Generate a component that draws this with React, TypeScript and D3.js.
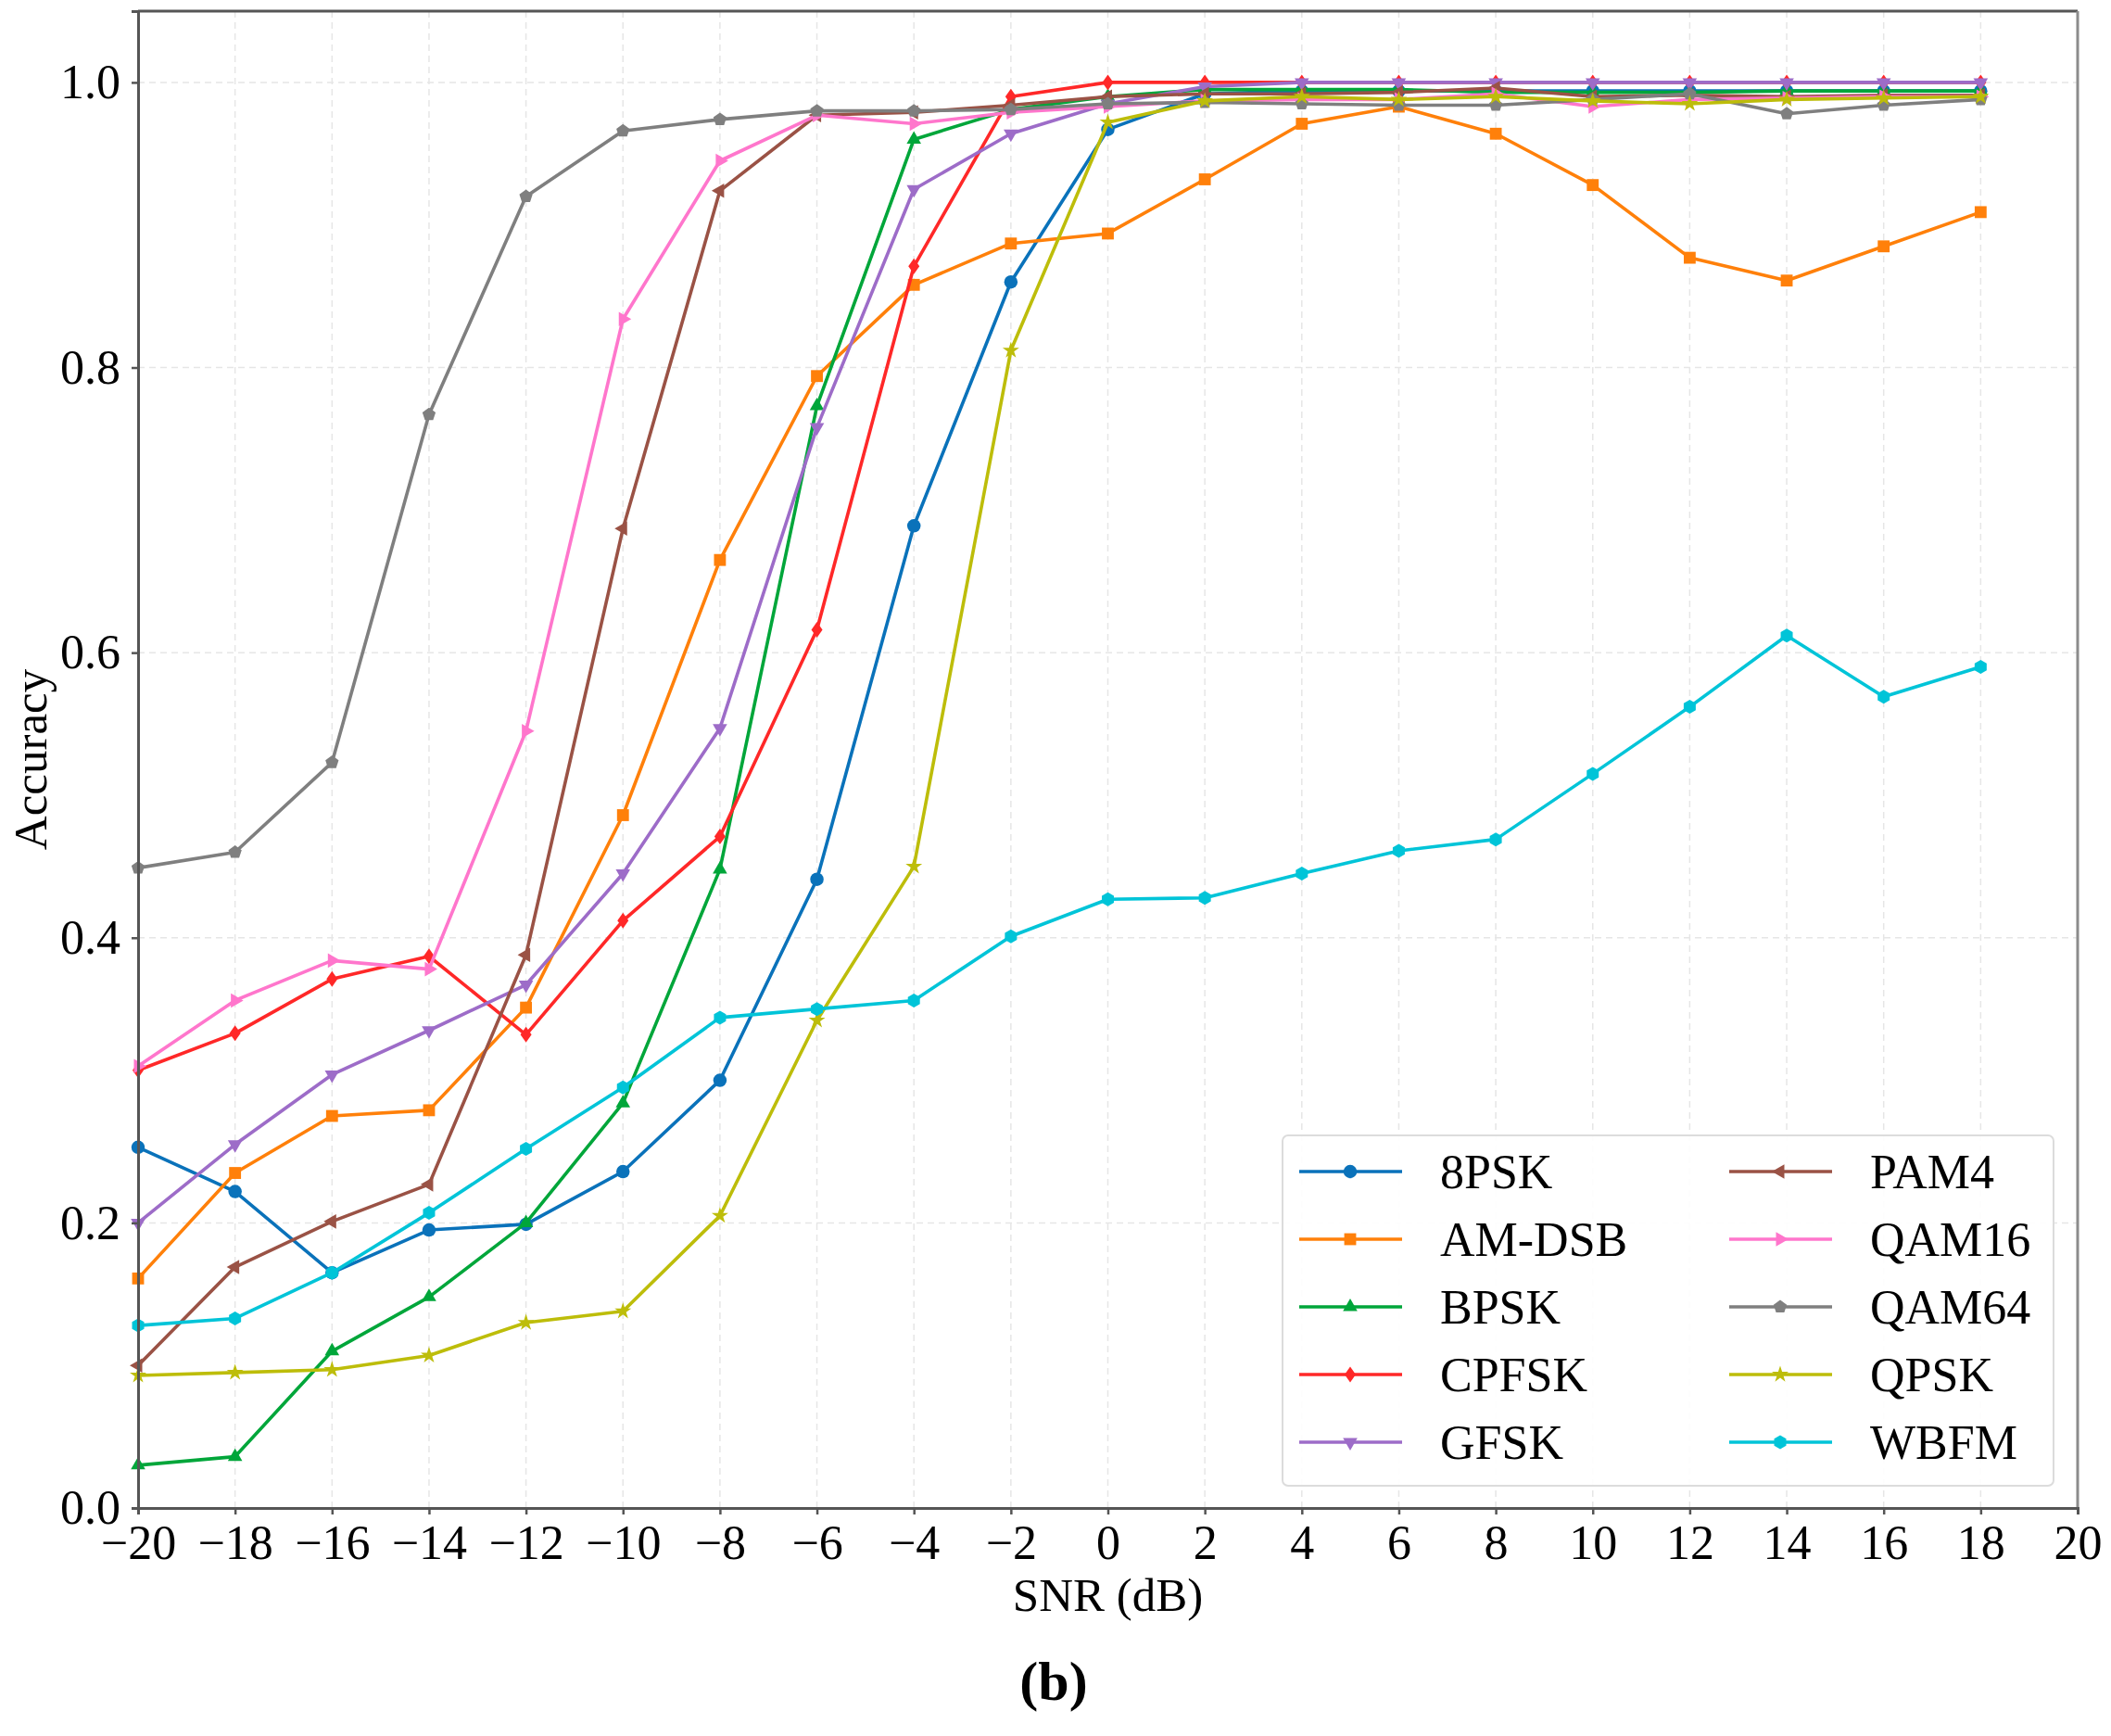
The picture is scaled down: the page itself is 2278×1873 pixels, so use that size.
import React, { useEffect, useRef } from 'react';
import * as d3 from 'd3';

const snr = [-20, -18, -16, -14, -12, -10, -8, -6, -4, -2, 0, 2, 4, 6, 8, 10, 12, 14, 16, 18];

const psk8 = [0.253, 0.222, 0.165, 0.195, 0.199, 0.236, 0.300, 0.441, 0.689, 0.860, 0.967, 0.992, 0.994, 0.994, 0.994, 0.994, 0.994, 0.994, 0.994, 0.994];
const amDsb = [0.161, 0.235, 0.275, 0.279, 0.351, 0.486, 0.665, 0.794, 0.858, 0.887, 0.894, 0.932, 0.971, 0.983, 0.964, 0.928, 0.877, 0.861, 0.885, 0.909];
const bpsk = [0.030, 0.036, 0.110, 0.148, 0.200, 0.284, 0.448, 0.773, 0.960, 0.981, 0.990, 0.995, 0.995, 0.995, 0.993, 0.993, 0.993, 0.994, 0.994, 0.994];
const cpfsk = [0.307, 0.333, 0.371, 0.387, 0.332, 0.412, 0.471, 0.616, 0.871, 0.990, 1.0, 1.0, 1.0, 1.0, 1.0, 1.0, 1.0, 1.0, 1.0, 1.0];
const gfsk = [0.200, 0.255, 0.304, 0.335, 0.367, 0.445, 0.547, 0.758, 0.925, 0.964, 0.985, 0.997, 1.0, 1.0, 1.0, 1.0, 1.0, 1.0, 1.0, 1.0];
const pam4 = [0.100, 0.169, 0.201, 0.227, 0.388, 0.687, 0.924, 0.977, 0.979, 0.984, 0.990, 0.992, 0.992, 0.993, 0.996, 0.990, 0.991, 0.990, 0.991, 0.991];
const qam16 = [0.310, 0.356, 0.384, 0.378, 0.545, 0.834, 0.945, 0.977, 0.971, 0.979, 0.983, 0.987, 0.988, 0.988, 0.992, 0.983, 0.988, 0.989, 0.990, 0.990];
const qam64 = [0.449, 0.460, 0.523, 0.767, 0.920, 0.966, 0.974, 0.980, 0.980, 0.981, 0.985, 0.986, 0.985, 0.984, 0.984, 0.988, 0.992, 0.978, 0.984, 0.988];
const qpsk = [0.093, 0.095, 0.097, 0.107, 0.130, 0.138, 0.205, 0.342, 0.450, 0.812, 0.972, 0.987, 0.990, 0.988, 0.990, 0.987, 0.985, 0.988, 0.989, 0.990];
const wbfm = [0.128, 0.133, 0.165, 0.207, 0.252, 0.295, 0.344, 0.350, 0.356, 0.401, 0.427, 0.428, 0.445, 0.461, 0.469, 0.515, 0.562, 0.612, 0.569, 0.590];

const names = ['8PSK', 'AM-DSB', 'BPSK', 'CPFSK', 'GFSK', 'PAM4', 'QAM16', 'QAM64', 'QPSK', 'WBFM'];
const values = [psk8, amDsb, bpsk, cpfsk, gfsk, pam4, qam16, qam64, qpsk, wbfm];
const colors = ['#0a72ba', '#ff800a', '#00a63a', '#ff2828', '#9d6cc8', '#9a5245', '#ff76cc', '#7f7f7f', '#bdbd0a', '#00c4d8'];
const markers = ['circle', 'square', 'up', 'diamond', 'down', 'left', 'right', 'pentagon', 'star', 'hexagon'];

const xTicks = d3.range(-20, 21, 2);
const yTicks = [0, 0.2, 0.4, 0.6, 0.8, 1.0];

// polygon path centred at 0,0
function poly(n: number, r: number, rot: number) {
  const pts = d3.range(n).map(i => {
    const a = rot + (i * 2 * Math.PI) / n;
    return [r * Math.cos(a), r * Math.sin(a)];
  });
  return 'M' + pts.map(p => p.join(',')).join('L') + 'Z';
}

function markerPath(kind: string) {
  const r = 7.5;
  switch (kind) {
    case 'circle': return d3.symbol(d3.symbolCircle, 165)()!;
    case 'square': return d3.symbol(d3.symbolSquare, 165)()!;
    case 'up': return poly(3, r + 1.5, -Math.PI / 2);
    case 'down': return poly(3, r + 1.5, Math.PI / 2);
    case 'left': return poly(3, r + 1.5, Math.PI);
    case 'right': return poly(3, r + 1.5, 0);
    case 'diamond': return 'M0,-8.5L6,0L0,8.5L-6,0Z';
    case 'pentagon': return poly(5, r, -Math.PI / 2);
    case 'hexagon': return poly(6, r, -Math.PI / 2);
    case 'star': return d3.symbol(d3.symbolStar, 100)()!;
    default: return d3.symbol(d3.symbolCircle, 165)()!;
  }
}

const App: React.FC = () => {
  const svgRef = useRef<SVGSVGElement>(null);

  useEffect(() => {
    const width = 2278;
    const height = 1873;
    const marginLeft = 149;
    const marginRight = 2242;
    const marginTop = 12;
    const marginBottom = 1627;
    const font = '"Liberation Serif", "Times New Roman", serif';

    const svg = d3.select(svgRef.current)
      .attr('width', width)
      .attr('height', height)
      .attr('viewBox', [0, 0, width, height].join(' '));

    svg.selectAll('*').remove();

    svg.append('rect').attr('width', width).attr('height', height).attr('fill', 'white');

    const x = d3.scaleLinear().domain([-20, 20]).range([marginLeft, marginRight]);
    const y = d3.scaleLinear().domain([0, 1.05]).range([marginBottom, marginTop]);

    // grid
    const grid = svg.append('g');
    xTicks.forEach(t => {
      grid.append('line')
        .attr('x1', x(t)).attr('x2', x(t))
        .attr('y1', marginTop).attr('y2', marginBottom)
        .attr('stroke', '#e6e6e6').attr('stroke-width', 1.5)
        .attr('stroke-dasharray', '7,5');
    });
    yTicks.forEach(t => {
      grid.append('line')
        .attr('x1', marginLeft).attr('x2', marginRight)
        .attr('y1', y(t)).attr('y2', y(t))
        .attr('stroke', '#e6e6e6').attr('stroke-width', 1.5)
        .attr('stroke-dasharray', '7,5');
    });

    // lines
    const line = d3.line<number>()
      .x((_, i) => x(snr[i]))
      .y(d => y(d));

    values.forEach((vals, k) => {
      const g = svg.append('g');
      g.append('path')
        .attr('d', line(vals))
        .attr('fill', 'none')
        .attr('stroke', colors[k])
        .attr('stroke-width', 3.6)
        .attr('stroke-linejoin', 'round');
      g.selectAll('path.m')
        .data(vals)
        .enter()
        .append('path')
        .attr('class', 'm')
        .attr('d', markerPath(markers[k]))
        .attr('transform', (d, i) => `translate(${x(snr[i])},${y(d)})`)
        .attr('fill', colors[k]);
    });

    // spines
    svg.append('line').attr('x1', marginLeft).attr('x2', marginRight).attr('y1', marginTop).attr('y2', marginTop)
      .attr('stroke', '#555').attr('stroke-width', 3);
    svg.append('line').attr('x1', marginRight).attr('x2', marginRight).attr('y1', marginTop).attr('y2', marginBottom)
      .attr('stroke', '#8c8c8c').attr('stroke-width', 3);

    const axX = svg.append('g')
      .attr('transform', `translate(0,${marginBottom})`)
      .call(d3.axisBottom(x).tickValues(xTicks).tickSize(7).tickPadding(11)
        .tickFormat(d => (+d < 0 ? '\u2212' + Math.abs(+d) : String(d))));
    axX.select('.domain').attr('stroke', '#555').attr('stroke-width', 3);
    axX.selectAll('line').attr('stroke', '#555').attr('stroke-width', 2.5);
    axX.selectAll('text').attr('font-family', font).attr('font-size', 52).attr('fill', '#000');

    const axY = svg.append('g')
      .attr('transform', `translate(${marginLeft},0)`)
      .call(d3.axisLeft(y).tickValues(yTicks).tickSize(7).tickPadding(12).tickFormat(d3.format('.1f')));
    axY.select('.domain').attr('stroke', '#555').attr('stroke-width', 3);
    axY.selectAll('line').attr('stroke', '#555').attr('stroke-width', 2.5);
    axY.selectAll('text').attr('font-family', font).attr('font-size', 52).attr('fill', '#000');

    // axis labels
    svg.append('text')
      .attr('x', (marginLeft + marginRight) / 2)
      .attr('y', 1738)
      .attr('text-anchor', 'middle')
      .attr('font-family', font).attr('font-size', 51).attr('fill', '#000')
      .text('SNR (dB)');

    svg.append('text')
      .attr('transform', `translate(50,${(marginTop + marginBottom) / 2}) rotate(-90)`)
      .attr('text-anchor', 'middle')
      .attr('font-family', font).attr('font-size', 51).attr('fill', '#000')
      .text('Accuracy');

    svg.append('text')
      .attr('x', 1137)
      .attr('y', 1834)
      .attr('text-anchor', 'middle')
      .attr('font-family', font).attr('font-size', 60).attr('font-weight', 'bold').attr('fill', '#000')
      .text('(b)');

    // legend
    const legend = svg.append('g');
    legend.append('rect')
      .attr('x', 1384).attr('y', 1225)
      .attr('width', 832).attr('height', 378)
      .attr('rx', 6)
      .attr('fill', 'white').attr('fill-opacity', 0.9)
      .attr('stroke', '#dcdcdc').attr('stroke-width', 2);

    names.forEach((name, k) => {
      const col = Math.floor(k / 5);
      const row = k % 5;
      const lx = col === 0 ? 1402 : 1866;
      const ly = 1264 + row * 73;
      legend.append('line')
        .attr('x1', lx).attr('x2', lx + 111)
        .attr('y1', ly).attr('y2', ly)
        .attr('stroke', colors[k]).attr('stroke-width', 3.6);
      legend.append('path')
        .attr('d', markerPath(markers[k]))
        .attr('transform', `translate(${lx + 55},${ly})`)
        .attr('fill', colors[k]);
      legend.append('text')
        .attr('x', lx + 152)
        .attr('y', ly)
        .attr('dy', '0.35em')
        .attr('font-family', font).attr('font-size', 52).attr('fill', '#000')
        .text(name);
    });
  }, []);

  return (
    <svg ref={svgRef} style={{ position: 'absolute', left: 0, top: 0, display: 'block' }}></svg>
  );
};

export default App;
